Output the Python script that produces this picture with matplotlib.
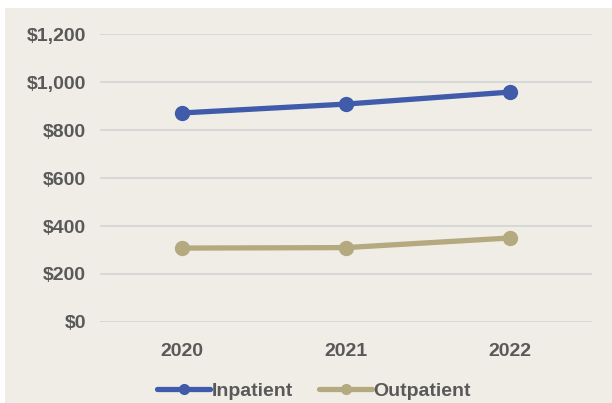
import matplotlib
matplotlib.use("Agg")
from matplotlib import pyplot as plt
from matplotlib.patches import Rectangle

# chart data
years = ["2020", "2021", "2022"]
inpatient = [871, 908, 958]
outpatient = [308, 310, 350]
y_ticks = [0, 200, 400, 600, 800, 1000, 1200]

bg = "#EFEDE6"
text_col = "#595959"

plt.rcParams["font.family"] = ["Liberation Sans", "DejaVu Sans"]

fig = plt.figure(figsize=(6.12, 4.03), dpi=100, facecolor=bg)
# thin white strips at top and left, as in the screenshot
fig.add_artist(Rectangle((0, 1 - 8 / 403), 1, 8 / 403, transform=fig.transFigure,
                         facecolor="white", edgecolor="none", zorder=-10))
fig.add_artist(Rectangle((0, 0), 5 / 612, 1, transform=fig.transFigure,
                         facecolor="white", edgecolor="none", zorder=-10))

ax = fig.add_axes([0.163, 0.201, 0.804, 0.7146])
ax.set_facecolor(bg)

x = range(len(years))
ax.plot(x, inpatient, color="#3F5BA9", lw=3.8, marker="o", ms=10, label="Inpatient",
        solid_capstyle="round", zorder=3)
ax.plot(x, outpatient, color="#B5A97F", lw=3.8, marker="o", ms=10, label="Outpatient",
        solid_capstyle="round", zorder=3)

ax.set_xlim(-0.5, 2.5)
ax.set_ylim(0, 1200)
ax.set_yticks(y_ticks)
ax.set_yticklabels(["${:,}".format(v) for v in y_ticks])
ax.set_xticks(list(x))
ax.set_xticklabels(years)
ax.grid(axis="y", color="#D5D5D5", lw=1.3)
ax.set_axisbelow(True)
for s in ax.spines.values():
    s.set_visible(False)
ax.tick_params(length=0, labelsize=14, labelcolor=text_col, pad=10)
for lbl in ax.get_xticklabels() + ax.get_yticklabels():
    lbl.set_fontweight("bold")
ax.tick_params(axis="x", pad=15)

leg = fig.legend(loc="lower center", bbox_to_anchor=(0.513, -0.035), ncol=2, frameon=False,
                 prop={"size": 14, "weight": "bold"}, handlelength=2.75, handletextpad=0.05,
                 columnspacing=1.35, markerscale=0.7)
for t in leg.get_texts():
    t.set_color(text_col)

fig.savefig("out.png", dpi=100, facecolor=bg)
